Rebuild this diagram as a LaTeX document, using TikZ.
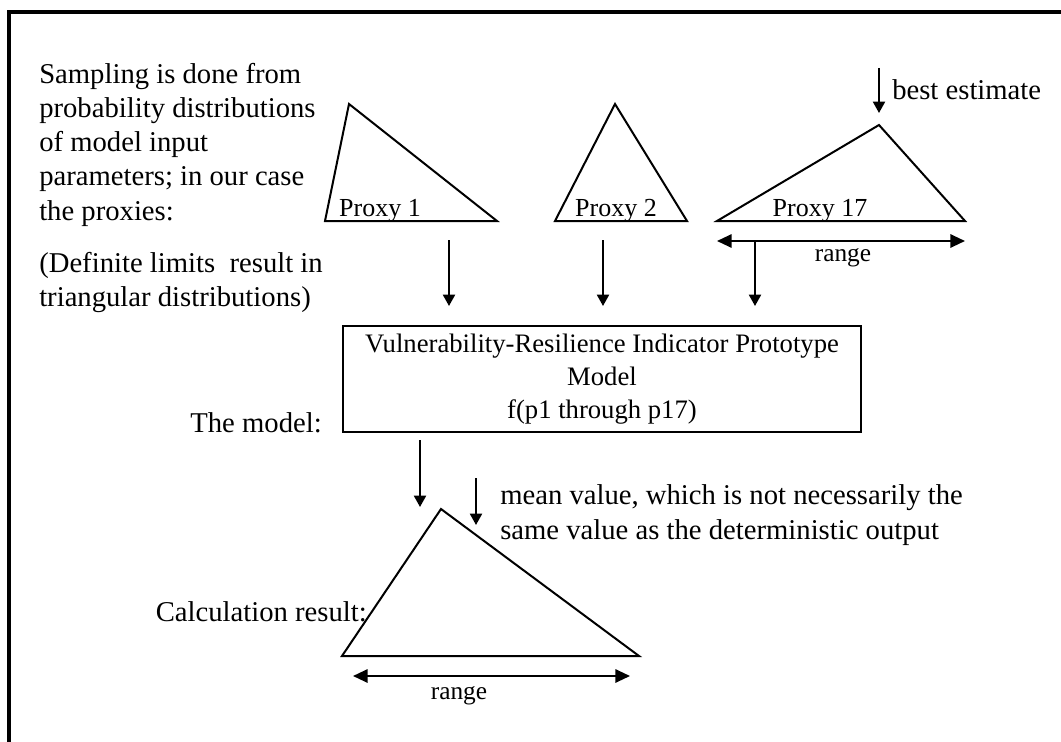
\documentclass[tikz,border=0pt]{standalone}
\usepackage{fontspec}
\setmainfont{Liberation Serif}
\usetikzlibrary{calc}
\usetikzlibrary{arrows.meta}
\usetikzlibrary{positioning}
\tikzset{
    tri/.style   = {draw=black, line width=1.5pt, line join=miter},
    arr/.style   = {line width=1.5pt, -{Triangle[length=8.5pt, width=9pt]}},
    rng/.style   = {line width=1.5pt, {Triangle[length=11pt, width=10pt]}-{Triangle[length=11pt, width=10pt]}},
    big/.style   = {inner sep=0pt, font=\fontsize{21.5}{25.6}\selectfont},
    prx/.style   = {inner sep=0pt, font=\fontsize{19.5}{23}\selectfont},
    small/.style = {inner sep=0pt, font=\fontsize{19}{23}\selectfont}
}

\begin{document}
\begin{tikzpicture}[x=0.75pt, y=-0.75pt]
            % Frame to ensure alignment:
            \useasboundingbox                                   (0, 0) rectangle (1061, 742);
            \draw[line width=3pt]                               (9, 742) -- (9, 12) -- (1061, 12);

            % input distributions
            \draw[tri]  (325, 221) -- (349, 104) -- (497, 221) -- cycle;
            \draw[tri]  (555, 221) -- (615, 104) -- (687, 221) -- cycle;
            \draw[tri]  (717, 221) -- (879, 125) -- (965, 221) -- cycle;
            \node[prx, anchor=base] (proxyA) at (380, 216) {Proxy 1};
            \node[prx, anchor=base] (proxyB) at (616, 216) {Proxy 2};
            \node[prx, anchor=base] (proxyC) at (820, 216) {Proxy 17};

            % best estimate and range of proxy 17
            \coordinate (bestTop) at (879, 68);
            \coordinate (bestTip) at (879, 113);
            \draw[arr] (bestTop) -- (bestTip);
            \node[big, anchor=base west] (best) at (892, 99.5) {best estimate};
            \coordinate (rangeL) at (717, 241);
            \coordinate (rangeR) at (965, 241);
            \draw[rng] (rangeL) -- (rangeR);
            \node[small, anchor=base] (rangeC) at (843, 261) {range};

            % explanation on the left (base = last line)
            \node[big, anchor=base west, align=left] (sampling) at (39, 220)
                 {Sampling is done from\\probability distributions\\of model input\\parameters; in our case\\the proxies:};
            \node[big, anchor=base west, align=left] (limits) at (39, 306.5)
                 {(Definite limits\ \ result in\\triangular distributions)};

            % the model
            \node[draw, line width=1.8pt, inner sep=0pt, minimum width=388.5pt, minimum height=79.5pt,
                  align=center, font=\fontsize{20}{24.75}\selectfont] (model) at (602, 379)
                 {Vulnerability-Resilience Indicator Prototype\\Model\\f(p1 through p17)};
            \node[big, anchor=base east] (modelLbl) at (322, 432) {The model:};
            \coordinate (inA) at (449, 240);  \coordinate (outA) at (449, 306);
            \coordinate (inB) at (603, 240);  \coordinate (outB) at (603, 306);
            \coordinate (inC) at (755, 240);  \coordinate (outC) at (755, 306);
            \draw[arr] (inA) -- (outA);
            \draw[arr] (inB) -- (outB);
            \draw[arr] (inC) -- (outC);

            % calculation result
            \draw[tri]  (342, 656) -- (441, 509) -- (639, 656) -- cycle;
            \node[big, anchor=base east] (resultLbl) at (367, 621) {Calculation result:};
            \coordinate (resTop) at (420, 440);
            \coordinate (resTip) at (420, 507);
            \draw[arr] (resTop) -- (resTip);
            \coordinate (meanTop) at (476, 478);
            \coordinate (meanTip) at (476, 525);
            \draw[arr] (meanTop) -- (meanTip);
            \node[big, anchor=base west, align=left] (mean) at (500, 539)
                 {mean value, which is not necessarily the\\same value as the deterministic output};
            \coordinate (resL) at (353, 676);
            \coordinate (resR) at (630, 676);
            \draw[rng] (resL) -- (resR);
            \node[small, anchor=base] (rangeRes) at (459, 699) {range};
\end{tikzpicture}
\end{document}
